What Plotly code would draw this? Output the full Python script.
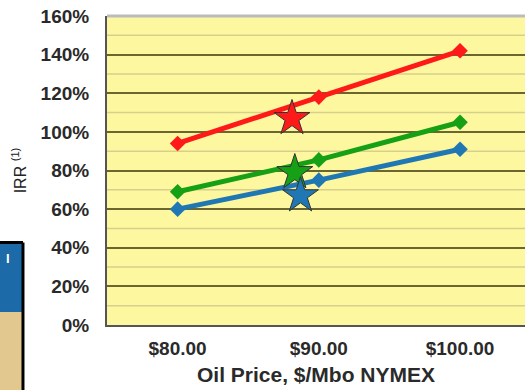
import plotly.graph_objects as go

prices = [80, 90, 100]
red_irr = [94, 118, 142]
green_irr = [69, 85.5, 105]
blue_irr = [60, 75, 91]

star_x = [88.1, 88.3, 88.7]
star_y = [107, 79, 67]
colors = ["#ff1a1a", "#16a016", "#1f77b4"]
series = [red_irr, green_irr, blue_irr]

y_ticks = list(range(0, 161, 20))
y_labels = [f"{v}%" for v in y_ticks]
x_labels = ["$80.00", "$90.00", "$100.00"]

FONT = "Liberation Sans, Arial, sans-serif"

fig = go.Figure()
for vals, c in zip(series, colors):
    fig.add_trace(go.Scatter(x=prices, y=vals, mode="lines+markers",
                             line=dict(color=c, width=5),
                             marker=dict(symbol="diamond", size=12, color=c),
                             showlegend=False, hoverinfo="skip"))
for sx, sy, c in zip(star_x, star_y, colors):
    fig.add_trace(go.Scatter(x=[sx], y=[sy], mode="markers",
                             marker=dict(symbol="star", size=27, color=c,
                                         line=dict(color="#333333", width=1)),
                             showlegend=False, hoverinfo="skip"))

# minor gridlines at 10% steps
shapes = []
for v in range(10, 160, 20):
    shapes.append(dict(type="line", xref="paper", yref="y", x0=0, x1=1, y0=v, y1=v,
                       line=dict(color="#d9cf8c", width=1.5), layer="below"))
# left cut-off table box
shapes.append(dict(type="rect", xref="paper", yref="paper", x0=-0.3, x1=-0.203,
                   y0=-0.25, y1=0.042, fillcolor="#e2c88e", line=dict(width=0)))
shapes.append(dict(type="rect", xref="paper", yref="paper", x0=-0.3, x1=-0.203,
                   y0=0.042, y1=0.265, fillcolor="#1c6aa8", line=dict(width=0)))
shapes.append(dict(type="line", xref="paper", yref="paper", x0=-0.201, x1=-0.201,
                   y0=-0.25, y1=0.267, line=dict(color="black", width=3)))
shapes.append(dict(type="line", xref="paper", yref="paper", x0=-0.3, x1=-0.201,
                   y0=0.267, y1=0.267, line=dict(color="black", width=3)))

fig.update_layout(
    width=525, height=390,
    margin=dict(l=107, r=0, t=16, b=65),
    paper_bgcolor="white",
    plot_bgcolor="#fdf79f",
    font=dict(family=FONT, color="#2a2a2a"),
    shapes=shapes,
    annotations=[dict(text="<b>I</b>", xref="paper", yref="paper", x=-0.247, y=0.185,
                      showarrow=False, font=dict(color="white", size=13))],
)
fig.update_xaxes(range=[75, 104.6], tickvals=prices,
                 ticktext=[f"<b>{t}</b>" for t in x_labels],
                 tickfont=dict(size=19, family=FONT),
                 showgrid=False, zeroline=False, showline=True,
                 linecolor="#555555", linewidth=2, ticks="outside", ticklen=5,
                 tickcolor="rgba(0,0,0,0)",
                 title=dict(text="<b>Oil Price, $/Mbo NYMEX</b>", font=dict(size=21), standoff=10))
fig.update_yaxes(range=[0, 160], tickvals=y_ticks, ticktext=[f"<b>{t}</b>" for t in y_labels],
                 tickfont=dict(size=19), showgrid=True, gridcolor="#6b6630", gridwidth=1.5,
                 zeroline=False, showline=True, linecolor="#555555", linewidth=2,
                 ticks="outside", ticklen=12, tickcolor="rgba(0,0,0,0)",
                 title=dict(text="IRR <sup>(1)</sup>", font=dict(size=16, color="#222222"),
                            standoff=10))
# top border
fig.add_shape(type="line", xref="paper", yref="paper", x0=0, x1=1, y0=1, y1=1,
              line=dict(color="#bbbbbb", width=3))
fig.write_html("out.html")
